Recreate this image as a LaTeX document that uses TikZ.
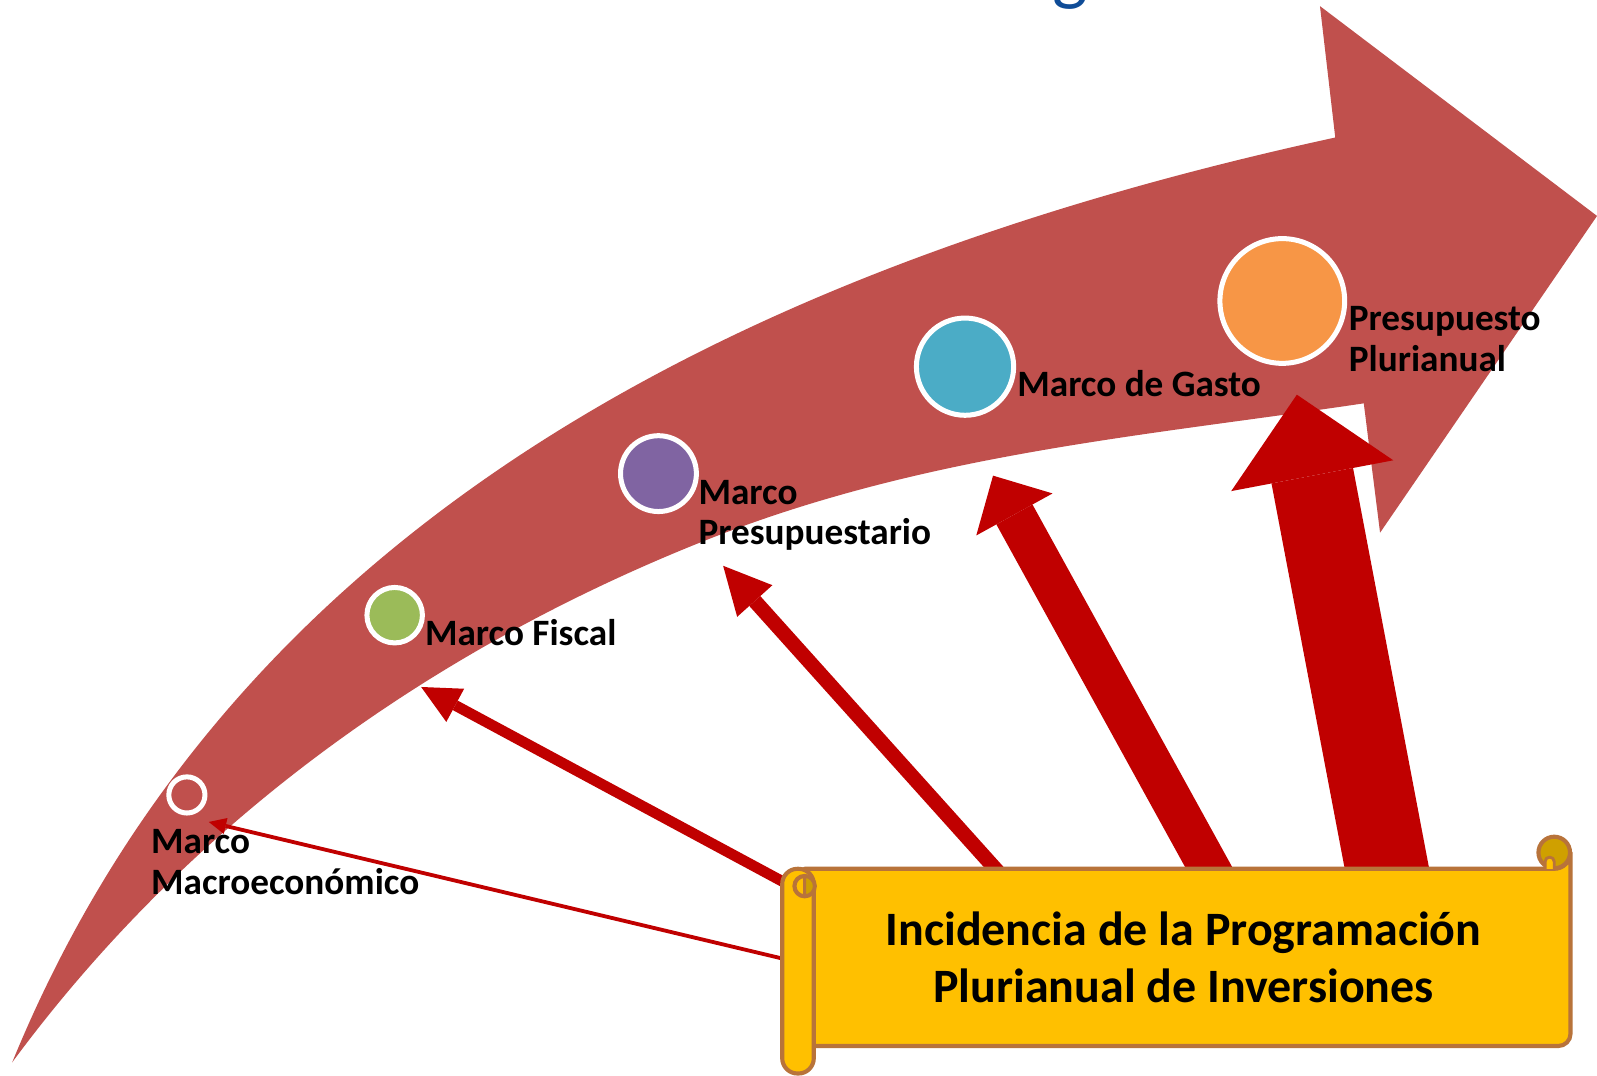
\documentclass[tikz,border=0pt]{standalone}
\usepackage{fontspec}
\setmainfont{Carlito}
\usetikzlibrary{arrows.meta}
\definecolor{bigred}{HTML}{C0504D}
\definecolor{darkred}{HTML}{C00000}
\definecolor{cgreen}{HTML}{9BBB59}
\definecolor{cpurple}{HTML}{8064A2}
\definecolor{cteal}{HTML}{4BACC6}
\definecolor{corange}{HTML}{F79646}
\definecolor{scrollfill}{HTML}{FFC000}
\definecolor{scrolledge}{HTML}{B8733A}
\definecolor{scrolldark}{HTML}{CFA000}
\definecolor{titleblue}{RGB}{15,76,151}
\newcommand\twolines[2]{\vtop{\hbox{#1}\hbox{#2}}}
\newcommand\twocentered[2]{\vtop{\hbox to 0pt{\hss#1\hss}\hbox to 0pt{\hss#2\hss}}}
\begin{document}
\begin{tikzpicture}[x=0.02cm,y=-0.02cm,
  dot/.style={circle,draw=white,line width=2.8pt,inner sep=0pt},
  lbl/.style={font=\bfseries\fontsize{20.8}{22.8}\selectfont,inner sep=0pt,anchor=base west,text=black},
  feed/.style={draw=darkred,line cap=butt},
  scrollline/.style={draw=scrolledge,line width=2.3pt,fill=scrollfill,line join=round}
]
\useasboundingbox (0,0) rectangle (1568,1056);
\fill[white] (0,0) rectangle (1568,1056);
\begin{scope}
\clip (0,0) rectangle (1568,1056);
\node[font=\fontsize{42}{48}\selectfont,text=titleblue,anchor=base west,inner sep=0pt] (title) at (1033,-3) {g};
\end{scope}
% big curved arrow
\fill[bigred] (12,1043) .. controls (222,530) and (700,268) .. (1311,135)
  -- (1296,6) -- (1568,212) -- (1355,523) -- (1339,396)
  .. controls (1122,428.5) and (906,445.2) .. (689,532)
  .. controls (439,632) and (195,795) .. (12,1043) -- cycle;
% circles
\node[dot,fill=bigred,minimum size=0.71cm] (c1) at (183.5,780.5) {};
\node[dot,fill=cgreen,minimum size=1.09cm] (c2) at (387.5,604) {};
\node[dot,fill=cpurple,minimum size=1.49cm] (c3) at (646.5,465) {};
\node[dot,fill=cteal,minimum size=1.91cm] (c4) at (947.5,360) {};
\node[dot,fill=corange,minimum size=2.45cm] (c5) at (1259,295.5) {};
% feed arrows
\coordinate (t1) at (205,807);
\coordinate (s1) at (800,948.7);
\coordinate (t2) at (413.5,674.5);
\coordinate (s2) at (800,882.5);
\coordinate (t3) at (710,555.5);
\coordinate (s3) at (992.5,870);
\coordinate (t4) at (975,467);
\coordinate (s4) at (1197,870);
\coordinate (t5) at (1273.3,387.5);
\coordinate (s5) at (1365,870);
\draw[feed,line width=0.075cm,-{Triangle[length=0.34cm,width=0.32cm,line width=0pt]}] (s1) -- (t1);
\draw[feed,line width=0.21cm,-{Triangle[length=0.76cm,width=0.74cm,line width=0pt]}] (s2) -- (t2);
\draw[feed,line width=0.29cm,-{Triangle[length=0.93cm,width=0.93cm,line width=0pt]}] (s3) -- (t3);
\draw[feed,line width=0.81cm,-{Triangle[length=0.87cm,width=1.71cm,line width=0pt]}] (s4) -- (t4);
\draw[feed,line width=1.63cm,-{Triangle[length=1.62cm,width=3.24cm,line width=0pt]}] (s5) -- (t5);
% scroll body
\path[scrollline] (790,853) -- (1526,853) arc[start angle=90,end angle=0,radius=16] -- (1542,1015) arc[start angle=0,end angle=90,radius=12] -- (790,1027) -- cycle;
\path[scrollline,fill=scrolldark] (1526,837) circle[radius=15.5];
\path[scrollline,line width=1.6pt] (1517,853) -- (1517,846) arc[start angle=180,end angle=360,radius=4.5] -- (1526,853);
% left roll
\path[scrollline,rounded corners=0.3cm] (768,853) rectangle (799,1054);
\path[scrollline] (790,870) circle[radius=10];
\path[draw=scrolledge,fill=scrolldark,line width=1.6pt] (790,860.5) arc[start angle=-90,end angle=90,radius=9.5] -- cycle;
% scroll text
\node[font=\bfseries\fontsize{26.8}{32.3}\selectfont,inner sep=0pt,anchor=base] (scrolltext) at (1162,928) {\twocentered{Incidencia de la Programación}{Plurianual de Inversiones}};
% labels
\node[lbl] (l1) at (148,838) {\twolines{Marco}{Macroeconómico}};
\node[lbl] (l2) at (417,633.5) {Marco Fiscal};
\node[lbl] (l3) at (685.5,495) {\twolines{Marco}{Presupuestario}};
\node[lbl] (l4) at (998.5,389) {Marco de Gasto};
\node[lbl] (l5) at (1324,324.5) {\twolines{Presupuesto}{Plurianual}};
\end{tikzpicture}
\end{document}
